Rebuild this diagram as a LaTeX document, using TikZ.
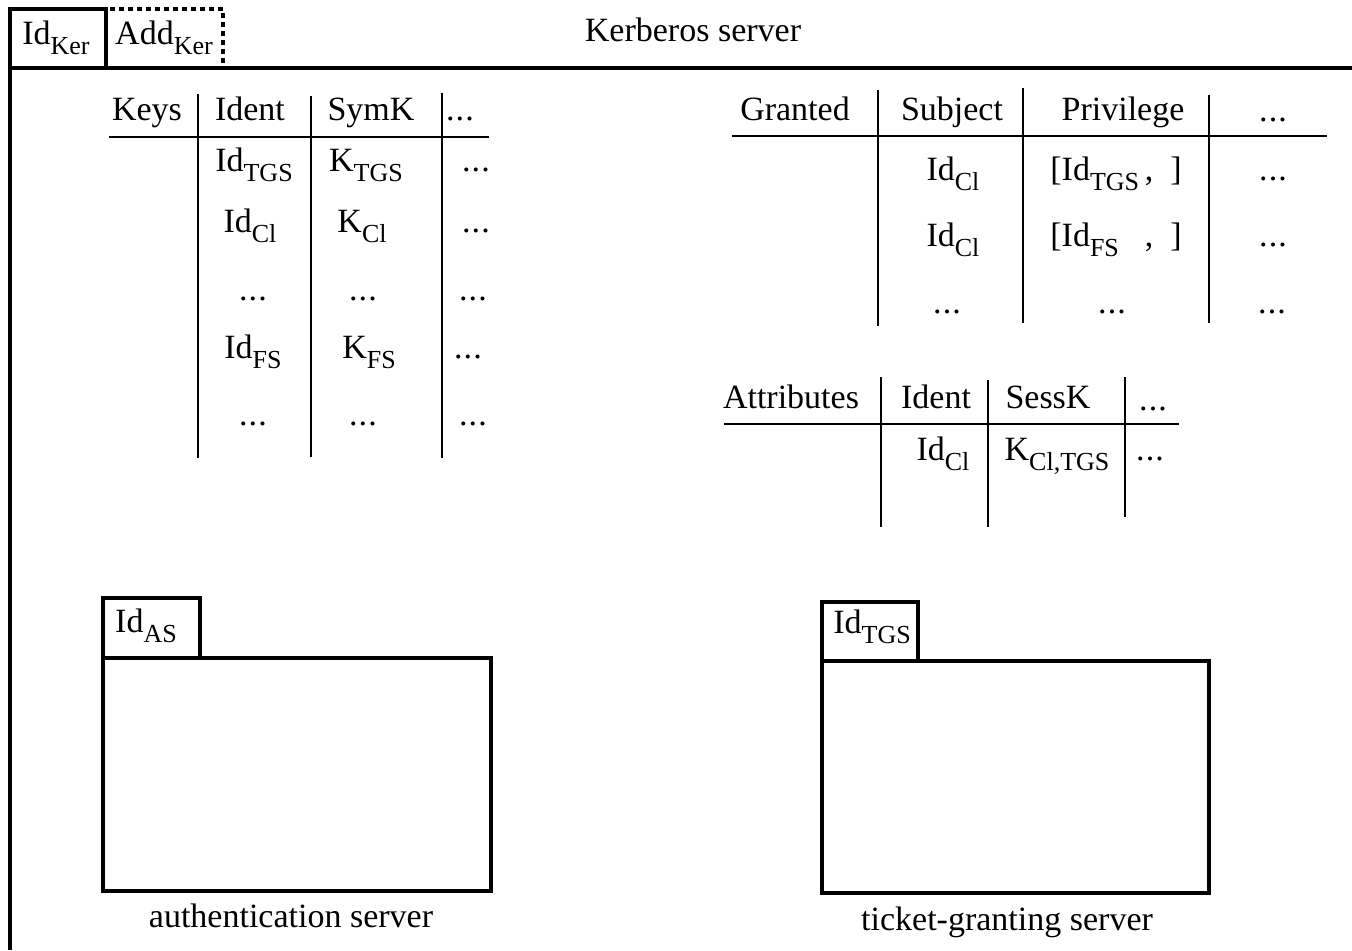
\documentclass[tikz,border=0pt]{standalone}
\usepackage{fontspec}
\setmainfont{Liberation Serif}
% lowered, smaller index text (Id_Ker, K_TGS, ...)
\newcommand\lowsub[1]{\raisebox{-5pt}{\fontsize{13pt}{15pt}\selectfont #1}}
% spaced three dots for the open table cells
\newcommand\dts{.\kern0.6pt.\kern0.6pt.}
\begin{document}
\begin{tikzpicture}[x=0.5pt,y=-0.5pt,
  lbl/.style={inner sep=0pt, anchor=base, font=\fontsize{17pt}{20pt}\selectfont},
  heavy/.style={line width=1.6pt},
  rule/.style={line width=1pt},
  dotline/.style={line width=1.6pt, dash pattern=on 2.5pt off 2pt}]
\useasboundingbox (0,0) rectangle (1352,950);

% ---- Kerberos server frame, open to the right and bottom ----
\draw[heavy] (10,950) -- (10,9) -- (106,9) -- (106,68);
\draw[heavy] (10,68) -- (1352,68);
\draw[dotline] (110,9) -- (223,9) -- (223,68);
\node[lbl] (idker)  at (56,44)  {Id\lowsub{Ker}};
\node[lbl] (addker) at (164,44) {Add\lowsub{Ker}};
\node[lbl] (title)  at (693,41) {Kerberos server};

% ---- Keys table ----
\draw[rule] (109,137) -- (489,137);
\draw[rule] (198,94) -- (198,458);
\draw[rule] (311,96) -- (311,457);
\draw[rule] (442,93) -- (442,458);
\node[lbl] (kh1) at (147,120) {Keys};
\node[lbl] (kh2) at (250,120) {Ident};
\node[lbl] (kh3) at (371,120) {SymK};
\node[lbl] (kh4) at (460,120) {\dts};
\node[lbl] (k11) at (254,171) {Id\lowsub{TGS}};
\node[lbl] (k12) at (366,171) {K\lowsub{TGS}};
\node[lbl] (k13) at (476,171) {\dts};
\node[lbl] (k21) at (250,232) {Id\lowsub{Cl}};
\node[lbl] (k22) at (362,232) {K\lowsub{Cl}};
\node[lbl] (k23) at (476,232) {\dts};
\node[lbl] (k31) at (253,300) {\dts};
\node[lbl] (k32) at (363,300) {\dts};
\node[lbl] (k33) at (473,300) {\dts};
\node[lbl] (k41) at (253,358) {Id\lowsub{FS}};
\node[lbl] (k42) at (369,358) {K\lowsub{FS}};
\node[lbl] (k43) at (468,358) {\dts};
\node[lbl] (k51) at (253,425) {\dts};
\node[lbl] (k52) at (363,425) {\dts};
\node[lbl] (k53) at (473,425) {\dts};

% ---- Granted table ----
\draw[rule] (732,136) -- (1327,136);
\draw[rule] (878,90) -- (878,326);
\draw[rule] (1023,88) -- (1023,323);
\draw[rule] (1209,95) -- (1209,323);
\node[lbl] (gh1) at (795,120)  {Granted};
\node[lbl] (gh2) at (952,120)  {Subject};
\node[lbl] (gh3) at (1123,120) {Privilege};
\node[lbl] (gh4) at (1273,121) {\dts};
\node[lbl] (g11) at (953,180)  {Id\lowsub{Cl}};
\node[lbl] (g12) at (1116,180) {[Id\lowsub{TGS}\,,\ \ ]};
\node[lbl] (g13) at (1273,180) {\dts};
\node[lbl] (g21) at (953,246)  {Id\lowsub{Cl}};
\node[lbl] (g22) at (1116,246) {[Id\lowsub{\rlap{FS}\phantom{TGS}}\,,\ \ ]};
\node[lbl] (g23) at (1273,246) {\dts};
\node[lbl] (g31) at (947,313)  {\dts};
\node[lbl] (g32) at (1112,313) {\dts};
\node[lbl] (g33) at (1272,313) {\dts};

% ---- Attributes table ----
\draw[rule] (724,424) -- (1179,424);
\draw[rule] (881,377) -- (881,527);
\draw[rule] (988,380) -- (988,527);
\draw[rule] (1125,377) -- (1125,517);
\node[lbl] (ah1) at (791,408)  {Attributes};
\node[lbl] (ah2) at (936,408)  {Ident};
\node[lbl] (ah3) at (1048,408) {SessK};
\node[lbl] (ah4) at (1153,410) {\dts};
\node[lbl] (a11) at (943,460)  {Id\lowsub{Cl}};
\node[lbl] (a12) at (1057,460) {K\lowsub{Cl,TGS}};
\node[lbl] (a13) at (1150,460) {\dts};

% ---- authentication server package ----
\draw[heavy] (103,658) -- (103,598) -- (200,598) -- (200,658);
\draw[heavy] (103,658) rectangle (491,891);
\node[lbl] (idas) at (146,632) {Id\lowsub{AS}};
\node[lbl] (as)   at (291,927) {authentication server};

% ---- ticket-granting server package ----
\draw[heavy] (822,661) -- (822,602) -- (918,602) -- (918,661);
\draw[heavy] (822,661) rectangle (1209,893);
\node[lbl] (idtgs) at (872,633) {Id\lowsub{TGS}};
\node[lbl] (tgs)   at (1007,930) {ticket-granting server};
\end{tikzpicture}
\end{document}
